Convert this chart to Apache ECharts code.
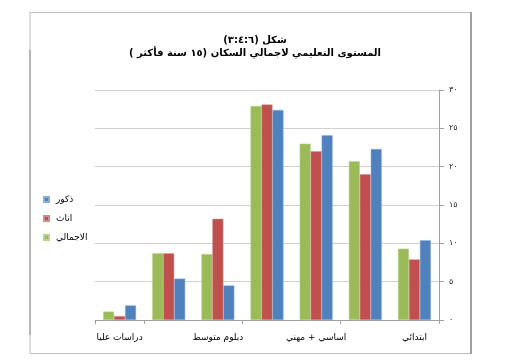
<!DOCTYPE html>
<html><head><meta charset="utf-8">
<script src="https://cdn.jsdelivr.net/npm/echarts@6/dist/echarts.min.js"></script>
<style>html,body{margin:0;padding:0;background:#fff}#c{width:520px;height:362px}</style>
</head><body><div id="c" dir="rtl"></div>
<script>
const categories = ['ابتدائي', 'اعدادي', 'اساسي + مهني', 'ثانوي', 'دبلوم متوسط', 'بكالوريوس', 'دراسات عليا'];
const total = [9.3, 20.7, 23.0, 27.9, 8.6, 8.7, 1.1];
const females = [7.9, 19.0, 22.0, 28.1, 13.2, 8.7, 0.5];
const males = [10.4, 22.3, 24.1, 27.4, 4.5, 5.4, 1.9];
const yTicks = [0, 5, 10, 15, 20, 25, 30];
const titleLine1 = 'شكل (٣:٤:٦)';
const titleLine2 = 'المستوى التعليمي لاجمالي السكان (١٥ سنة فأكثر )';
const toArabicDigits = s => String(s).replace(/[0-9]/g, d => '٠١٢٣٤٥٦٧٨٩'[d]);

const chart = echarts.init(document.getElementById('c'));
const font = 'DejaVu Sans';
chart.setOption({
  animation: false,
  textStyle: { fontFamily: font },
  graphic: [
    { type: 'rect', shape: { x: 30, y: 12.5, width: 441, height: 341 }, style: { fill: 'none', stroke: '#bdbdbd', lineWidth: 1 } },
    { type: 'line', shape: { x1: 471, y1: 12, x2: 471, y2: 354 }, style: { stroke: '#8c8c8c', lineWidth: 1.5 } },
    { type: 'line', shape: { x1: 30, y1: 50, x2: 30, y2: 335 }, style: { stroke: '#8c8c8c', lineWidth: 1 } }
  ],
  title: [
    { text: titleLine1, left: 250, top: 30, textAlign: 'center', textStyle: { fontSize: 10, fontWeight: 'bold', color: '#000', fontFamily: font } },
    { text: titleLine2, left: 250, top: 43, textAlign: 'center', textStyle: { fontSize: 10, fontWeight: 'bold', color: '#000', fontFamily: font } }
  ],
  legend: {
    orient: 'vertical', left: 38, top: 190, itemWidth: 5, itemHeight: 5, itemGap: 10,
    icon: 'rect',
    data: ['ذكور', 'اناث', 'الاجمالي'],
    textStyle: { fontSize: 9, color: '#000', fontFamily: font, padding: [0, 0, 0, 2] }
  },
  grid: { left: 95, right: 81, top: 90, bottom: 42, containLabel: false },
  xAxis: {
    type: 'category', data: categories, inverse: true,
    axisLine: { lineStyle: { color: '#a0a0a0' } },
    axisTick: { show: true, alignWithLabel: false, length: 4, lineStyle: { color: '#a0a0a0' } },
    axisLabel: { fontSize: 9, color: '#000', margin: 13, fontFamily: font }
  },
  yAxis: {
    type: 'value', position: 'right', min: 0, max: 30, interval: 5,
    axisLine: { show: true, lineStyle: { color: '#a0a0a0' } },
    axisTick: { show: true, length: 5, lineStyle: { color: '#a0a0a0' } },
    splitLine: { lineStyle: { color: '#d0d0d0' } },
    axisLabel: { fontSize: 8, color: '#222', margin: 10, fontFamily: font, formatter: v => toArabicDigits(v) }
  },
  series: [
    { name: 'الاجمالي', type: 'bar', data: total, barGap: '0%', barCategoryGap: '33%', itemStyle: { color: '#9bbb59', borderColor: '#b8d38a', borderWidth: 0.5 } },
    { name: 'اناث', type: 'bar', data: females, itemStyle: { color: '#c0504d', borderColor: '#d88a88', borderWidth: 0.5 } },
    { name: 'ذكور', type: 'bar', data: males, itemStyle: { color: '#4f81bd', borderColor: '#8aaedb', borderWidth: 0.5 } }
  ]
});
</script></body></html>
